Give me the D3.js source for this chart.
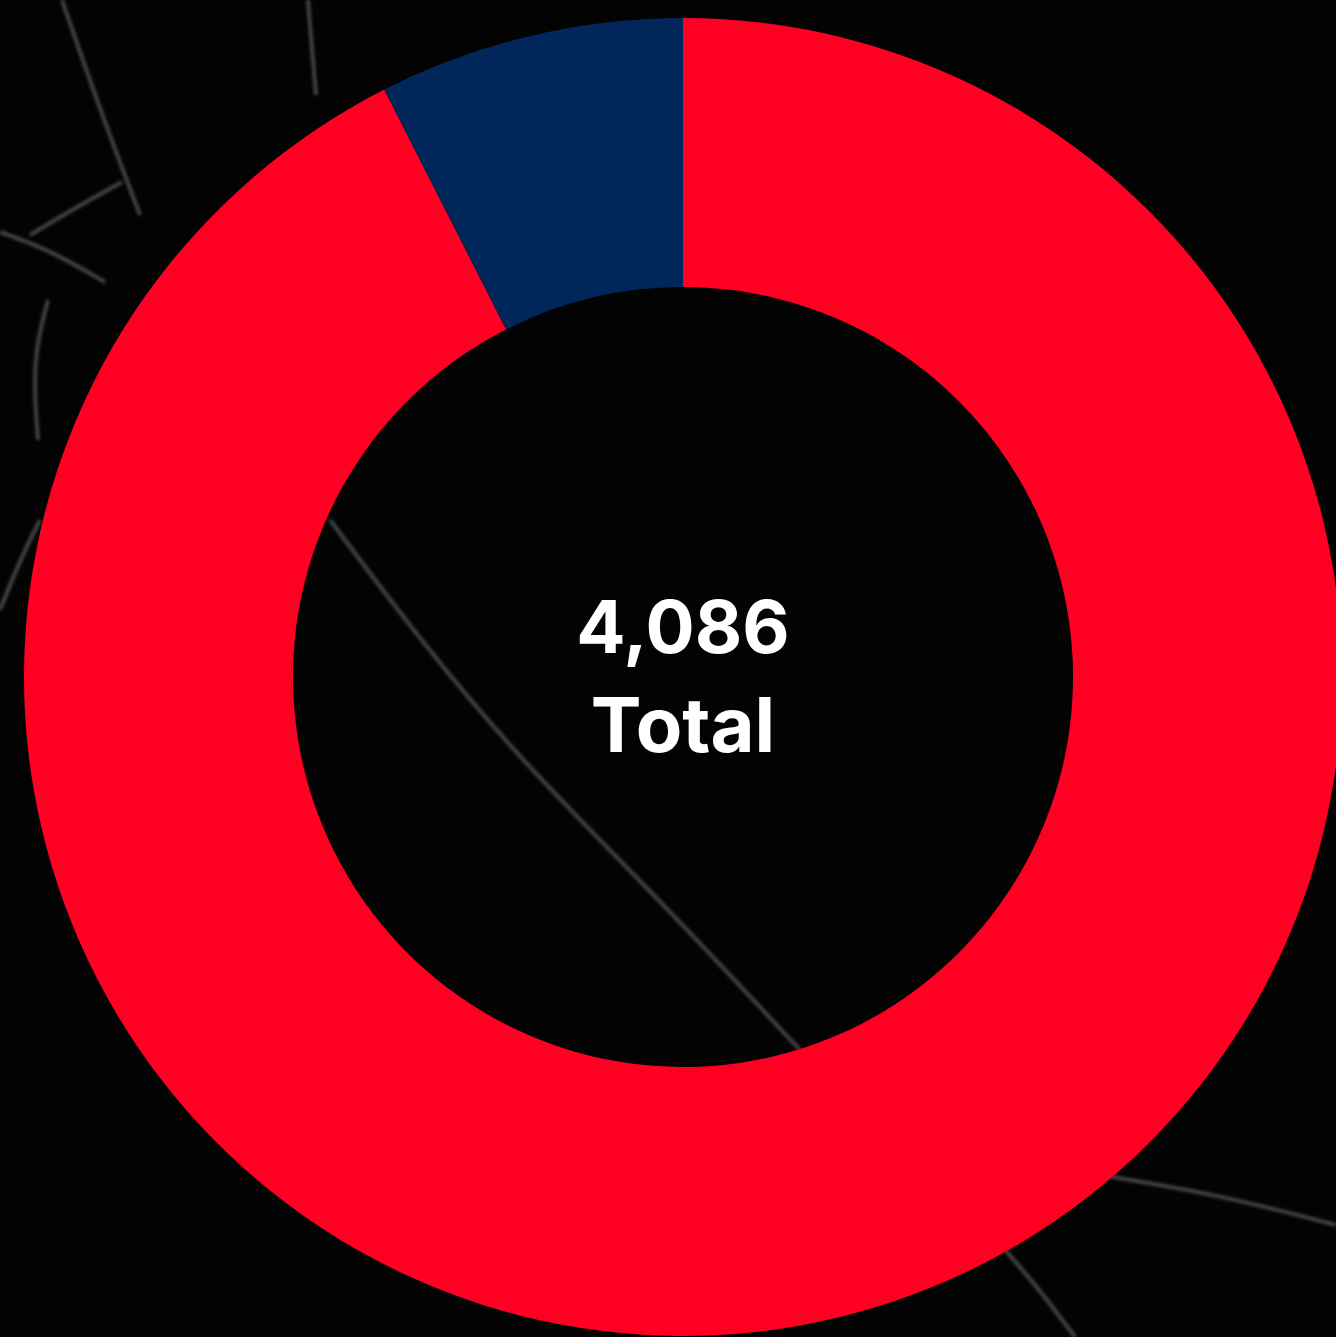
<!DOCTYPE html>
<html>
<head>
<meta charset="utf-8">
<script src="https://cdn.jsdelivr.net/npm/d3@7"></script>
<style>
  html, body { margin: 0; padding: 0; background: #030303; }
  svg { display: block; }
</style>
</head>
<body>
<svg id="chart" width="1336" height="1337"></svg>
<script>
// ---- Data ----
const categories = ["Red", "Blue"];
const values = [3780, 306];
const colors = ["#FF0022", "#00265A"];
const totalLabel = "4,086";
const totalCaption = "Total";

// ---- Layout ----
const W = 1336, H = 1337;
const cx = 683, cy = 677;
const outerR = 659, innerR = 390;

const svg = d3.select("#chart");
const defs = svg.append("defs");
defs.append("filter").attr("id", "soft")
  .append("feGaussianBlur").attr("stdDeviation", 1.6);

// background
svg.append("rect").attr("width", W).attr("height", H).attr("fill", "#030303");

// faint cracked-glass decoration
const cracks = [
  [[62,0],[100,110],[140,215]],
  [[308,0],[312,50],[316,95]],
  [[0,232],[50,250],[105,282]],
  [[30,235],[80,205],[122,182]],
  [[48,300],[32,360],[38,440]],
  [[0,610],[20,560],[40,520]],
  [[330,520],[420,640],[520,760],[660,900],[800,1050]],
  [[1100,1175],[1220,1195],[1336,1225]],
  [[1005,1250],[1040,1290],[1075,1337]]
];
svg.append("g").attr("filter", "url(#soft)")
  .selectAll("path").data(cracks).join("path")
  .attr("d", d3.line().curve(d3.curveBasis))
  .attr("fill", "none")
  .attr("stroke", "rgba(210,215,225,0.3)")
  .attr("stroke-width", 4);

// donut
const pie = d3.pie().sort(null).value(d => d);
const arc = d3.arc().innerRadius(innerR).outerRadius(outerR);
const g = svg.append("g").attr("transform", `translate(${cx},${cy})`);
g.selectAll("path.slice").data(pie(values)).join("path")
  .attr("class", "slice")
  .attr("d", arc)
  .attr("fill", (d, i) => colors[i]);

// center text
g.append("text")
  .attr("x", 0).attr("y", -24)
  .attr("text-anchor", "middle")
  .attr("font-family", "Inter, 'Liberation Sans', sans-serif")
  .attr("font-weight", 700)
  .attr("font-size", 73)
  .attr("fill", "#ffffff")
  .text(totalLabel);
g.append("text")
  .attr("x", 0).attr("y", 75)
  .attr("text-anchor", "middle")
  .attr("font-family", "Inter, 'Liberation Sans', sans-serif")
  .attr("font-weight", 700)
  .attr("font-size", 76)
  .attr("fill", "#ffffff")
  .text(totalCaption);
</script>
</body>
</html>
